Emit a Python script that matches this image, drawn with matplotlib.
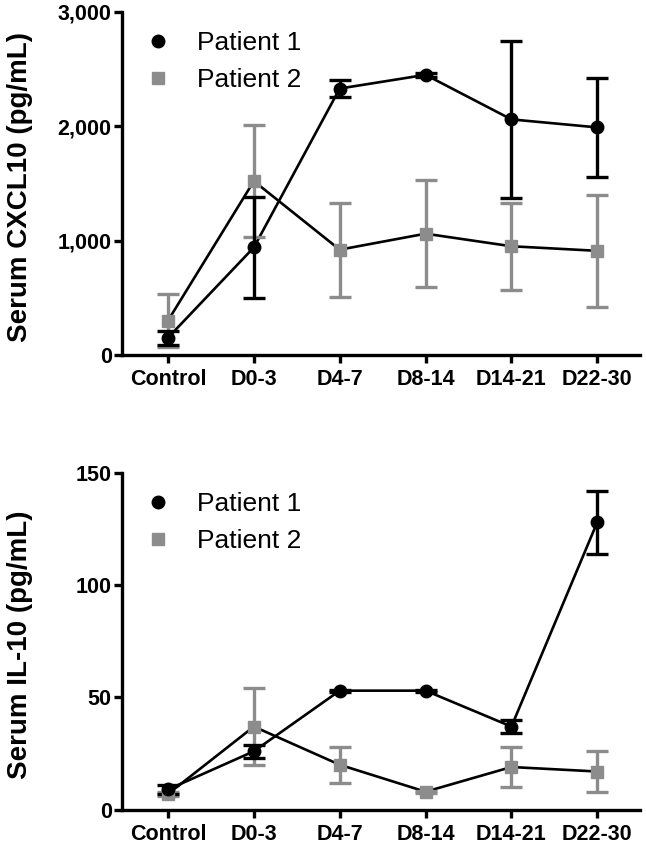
import matplotlib
matplotlib.use("Agg")
import matplotlib.pyplot as plt
import numpy as np

plt.rcParams['font.family'] = ['Liberation Sans', 'DejaVu Sans']

categories = ["Control", "D0-3", "D4-7", "D8-14", "D14-21", "D22-30"]

cxcl10_p1 = [150, 940, 2330, 2450, 2060, 1990]
cxcl10_p1_err = [60, 440, 75, 20, 690, 430]
cxcl10_p2 = [300, 1520, 920, 1060, 950, 910]
cxcl10_p2_err = [230, 490, 410, 470, 380, 490]

il10_p1 = [9, 26, 53, 53, 37, 128]
il10_p1_err = [2, 3, 0.5, 0.5, 3, 14]
il10_p2 = [7, 37, 20, 8, 19, 17]
il10_p2_err = [1, 17, 8, 0.5, 9, 9]

black = "#000000"
grey = "#8c8c8c"

fig = plt.figure(figsize=(6.46, 8.55), dpi=100)
ax1 = fig.add_axes([0.189, 0.585, 0.802, 0.401])
ax2 = fig.add_axes([0.189, 0.053, 0.802, 0.394])

x = np.arange(len(categories))

def draw(ax, p1, e1, p2, e2, ylim, yticks, yticklabels, ylabel, label_y):
    ax.plot(x, p2, color=black, lw=1.9, zorder=2)
    ax.plot(x, p1, color=black, lw=1.9, zorder=2)
    ax.errorbar(x, p2, yerr=e2, fmt='none', ecolor=grey, elinewidth=2.4,
                capsize=8, capthick=2.4, zorder=3)
    ax.errorbar(x, p1, yerr=e1, fmt='none', ecolor=black, elinewidth=2.4,
                capsize=8, capthick=2.4, zorder=4)
    ax.plot(x, p2, ls='none', marker='s', ms=8, color=grey, zorder=5,
            label="Patient 2")
    ax.plot(x, p1, ls='none', marker='o', ms=9, color=black, zorder=6,
            label="Patient 1")
    ax.set_xlim(-0.535, 5.5)
    ax.set_ylim(*ylim)
    ax.set_yticks(yticks)
    ax.set_yticklabels(yticklabels)
    ax.set_xticks(x)
    ax.set_xticklabels(categories)
    for s in ['top', 'right']:
        ax.spines[s].set_visible(False)
    for s in ['left', 'bottom']:
        ax.spines[s].set_linewidth(2.4)
    ax.tick_params(axis='both', width=2.4, length=6, labelsize=15.5)
    ax.tick_params(axis='y', pad=1.5)
    ax.tick_params(axis='x', pad=4)
    for lab in ax.get_xticklabels() + ax.get_yticklabels():
        lab.set_fontweight('bold')
    ax.set_ylabel(ylabel, fontsize=20, fontweight='bold')
    ax.yaxis.set_label_coords(-0.172, label_y)
    handles, labels = ax.get_legend_handles_labels()
    order = [labels.index("Patient 1"), labels.index("Patient 2")]
    ax.legend([handles[i] for i in order], [labels[i] for i in order],
              loc='upper left', bbox_to_anchor=(0.008, 0.998), frameon=False,
              fontsize=19, handletextpad=1.0, labelspacing=0.5,
              handlelength=1.0, borderaxespad=0.3)

draw(ax1, cxcl10_p1, cxcl10_p1_err, cxcl10_p2, cxcl10_p2_err,
     (0, 3000), [0, 1000, 2000, 3000], ["0", "1,000", "2,000", "3,000"],
     "Serum CXCL10 (pg/mL)", 0.49)
draw(ax2, il10_p1, il10_p1_err, il10_p2, il10_p2_err,
     (0, 150), [0, 50, 100, 150], ["0", "50", "100", "150"],
     "Serum IL-10 (pg/mL)", 0.49)

fig.savefig("out.png", dpi=100)
